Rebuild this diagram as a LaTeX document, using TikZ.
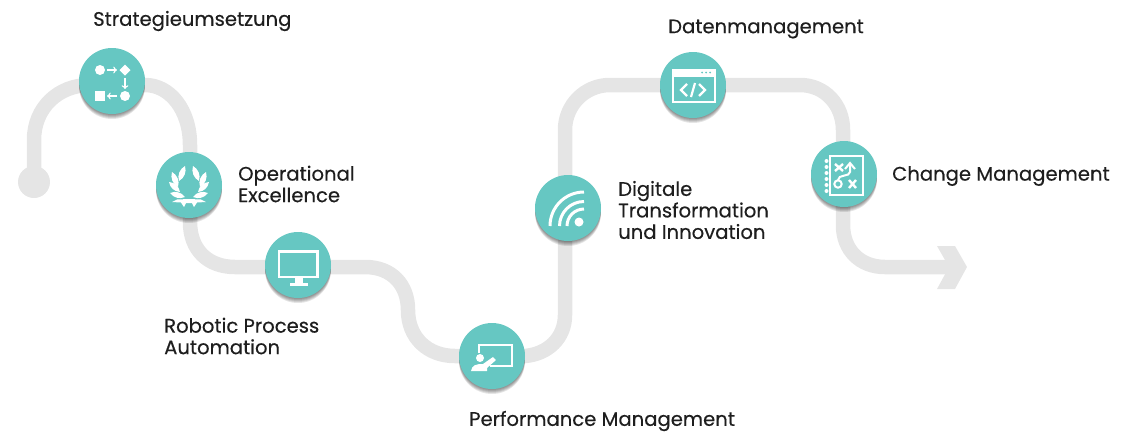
\documentclass[tikz,border=0pt]{standalone}
\usepackage{fontspec}
\setmainfont{Poppins}[FakeBold=0.35]
\usetikzlibrary{shadows}
\definecolor{roadgray}{HTML}{E5E5E5}
\definecolor{stopteal}{HTML}{66C7C2}
\definecolor{labelink}{HTML}{1E1E1E}
\tikzset{
    softshadow/.style={general shadow={shadow yshift=#1, opacity=0.1, fill=black}},
    stopnode/.style={circle, fill=stopteal, minimum size=66pt, inner sep=0pt, softshadow=-5pt, softshadow=-4pt, softshadow=-3pt, softshadow=-2pt, softshadow=-1pt},
    steplabel/.style={align=left, text=labelink, font=\fontsize{19.6}{21.5}\selectfont, inner sep=0pt},
    iconline/.style={draw=white, line width=2.4pt}
}
\newcommand{\laurelleaf}[2]{\fill[white] (#1) to[bend left=38] (#2) to[bend left=38] (#1);}
\begin{document}
\begin{tikzpicture}[x=1pt, y=-1pt]
    \useasboundingbox (0, 0) rectangle (1124, 432);
    \node[circle, fill=roadgray, minimum size=32pt, inner sep=0pt] (start) at (34, 182) {};
    \coordinate (tip) at (950, 267);
    \draw[roadgray, line width=14.5pt] (start.center) -- (34, 140) .. controls (34, 108) and (58, 85) .. (90, 85) -- (145, 85) .. controls (170, 85) and (190, 110) .. (190, 145) -- (190, 222) .. controls (190, 250) and (208, 267) .. (235, 267) -- (365, 267) .. controls (392, 267) and (408, 285) .. (408, 310) .. controls (408, 338) and (428, 356) .. (455, 356) -- (525, 356) .. controls (548, 354) and (565, 338) .. (565, 315) -- (565, 130) .. controls (565, 105) and (585, 85) .. (610, 85) -- (800, 85) .. controls (825, 85) and (843, 105) .. (843, 130) -- (843, 225) .. controls (843, 250) and (860, 267) .. (885, 267) -- (tip);
    \fill[roadgray] (937, 246) -- (955, 246) -- (967, 267) -- (955, 289) -- (937, 289) -- (949, 267) -- cycle;

    \node[stopnode] (strategie) at (112, 81) {};
    \node[stopnode] (opex) at (189, 185) {};
    \node[stopnode] (rpa) at (298, 265) {};
    \node[stopnode] (perf) at (492, 356) {};
    \node[stopnode] (digital) at (568, 208) {};
    \node[stopnode] (daten) at (693, 85) {};
    \node[stopnode] (change) at (844, 174) {};

    \node[steplabel, anchor=west] (strategielabel) at (93, 21) {Strategieumsetzung};
    \node[steplabel, anchor=west] (opexlabel) at (238, 184) {Operational\\Excellence};
    \node[steplabel, anchor=west] (rpalabel) at (164, 336) {Robotic Process\\Automation};
    \node[steplabel, anchor=west] (perflabel) at (469, 421) {Performance Management};
    \node[steplabel, anchor=west] (digitallabel) at (618, 210) {Digitale\\Transformation\\und Innovation};
    \node[steplabel, anchor=west] (datenlabel) at (668, 29) {Datenmanagement};
    \node[steplabel, anchor=west] (changelabel) at (892, 176) {Change Management};

    % process icon
    \begin{scope}[shift={(strategie)}]
        \fill[white] (-12, -11) circle (5);
        \fill[white] (13, -16.5) -- (18.5, -11) -- (13, -5.5) -- (7.5, -11) -- cycle;
        \fill[white] (13, 15) circle (5);
        \fill[white] (-17, 9.5) rectangle (-7, 20);
        \draw[white, line width=1.4pt, ->, >=to] (-5, -11) -- (5, -11);
        \draw[white, line width=1.4pt, ->, >=to] (13, -3) -- (13, 8);
        \draw[white, line width=1.4pt, ->, >=to] (5, 15) -- (-5, 15);
    \end{scope}

    % laurel icon
    \begin{scope}[shift={(opex)}]
        \foreach \s in {1, -1} {
            \begin{scope}[xscale=\s]
                \laurelleaf{4, -19}{10, -4}
                \laurelleaf{17, -13}{11, 2}
                \laurelleaf{20, -3}{9, 7}
                \laurelleaf{19, 8}{4, 12}
                \fill[white] (0, 14) -- (12, 14.5) -- (17, 17) -- (8, 17.5) -- (5, 22) -- (3, 18) -- (0, 18) -- cycle;
            \end{scope}
        }
    \end{scope}

    % monitor icon
    \begin{scope}[shift={(rpa)}]
        \draw[iconline] (-19, -13.5) rectangle (19.5, 12);
        \fill[white] (-3.5, 12) rectangle (4.5, 18);
        \fill[white] (-8, 18) rectangle (10, 20.5);
    \end{scope}

    % board icon
    \begin{scope}[shift={(perf)}]
        \draw[iconline] (-13, -3) -- (-13, -11) -- (20, -11) -- (20, 10) -- (-2, 10);
        \fill[white] (-12, 2) circle (4);
        \fill[white] (-21, 15) .. controls (-20, 9) and (-16, 8) .. (-9, 8) -- (1, 1) -- (4, 4) -- (-5, 12) -- (-5, 15) -- cycle;
    \end{scope}

    % wifi icon
    \begin{scope}[shift={(digital)}]
        \fill[white] (11, 14) circle (4.5);
        \draw[white, line width=3pt] (-1, 18) arc (180:270:17);
        \draw[white, line width=3pt] (-8.5, 18) arc (180:270:24.5);
        \draw[white, line width=3pt] (-18, 18) arc (180:270:34);
    \end{scope}

    % code window icon
    \begin{scope}[shift={(daten)}]
        \draw[white, line width=2.6pt] (-20, -15) rectangle (22, 17);
        \fill[white] (-20, -15) rectangle (22, -8);
        \fill[stopteal] (9, -12.5) circle (1) (13, -12.5) circle (1) (17, -12.5) circle (1);
        \draw[white, line width=2.2pt] (-6, -1) -- (-12, 5) -- (-6, 11);
        \draw[white, line width=2.2pt] (6, -1) -- (12, 5) -- (6, 11);
        \draw[white, line width=2.2pt] (2, -2) -- (-2, 12);
    \end{scope}

    % plan icon
    \begin{scope}[shift={(change)}]
        \draw[white, line width=2.4pt] (-14, -18) rectangle (19, 21);
        \draw[white, line width=2.4pt] (-9, -10) -- (-1, -3) (-1, -10) -- (-9, -3);
        \draw[white, line width=2.4pt] (5, 6) -- (12, 14) (12, 6) -- (5, 14);
        \draw[white, line width=2pt] (-6, 10) circle (3.7);
        \draw[white, line width=2pt] (-6, 6) .. controls (-6, 0) and (6, 3) .. (6, -2) -- (6, -10);
        \draw[white, line width=2pt] (1, -5) -- (6, -11) -- (11, -5);
        \foreach \k in {-13, -7, -1, 5, 11, 17} {
            \fill[white] (-17.5, \k) circle (2);
        }
    \end{scope}
\end{tikzpicture}
\end{document}
